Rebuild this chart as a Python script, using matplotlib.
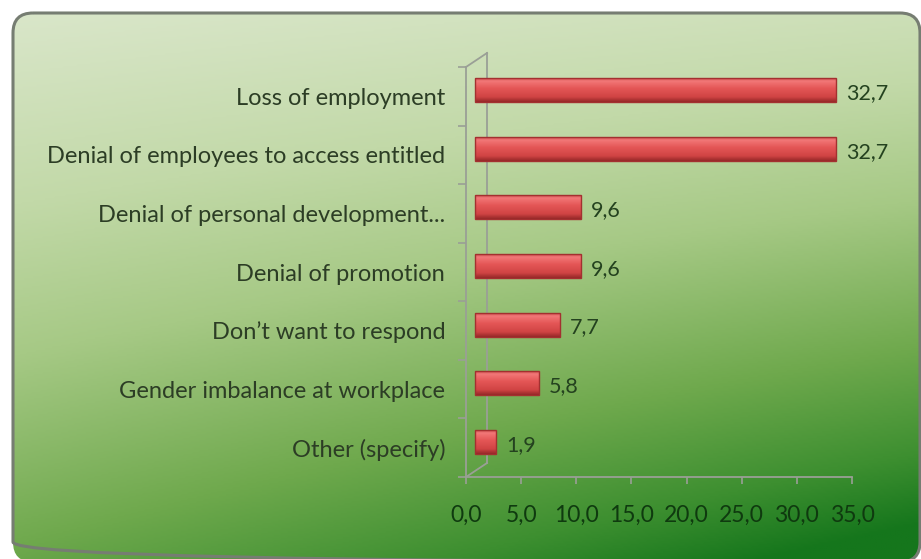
import numpy as np
import matplotlib
matplotlib.use("Agg")
import matplotlib.pyplot as plt
import matplotlib.transforms as mtransforms
from matplotlib.patches import FancyBboxPatch
from matplotlib.colors import LinearSegmentedColormap

# Survey results (percent of respondents)
categories = [
    "Loss of employment",
    "Denial of employees to access entitled",
    "Denial of personal development...",
    "Denial of promotion",
    "Don\u2019t want to respond",
    "Gender imbalance at workplace",
    "Other (specify)",
]
values = [32.7, 32.7, 9.6, 9.6, 7.7, 5.8, 1.9]
xticks = [0, 5, 10, 15, 20, 25, 30, 35]

plt.rcParams["font.family"] = ["Lato", "DejaVu Sans"]

W, H = 921, 559
fig = plt.figure(figsize=(W / 100, H / 100), dpi=100)
fig.patch.set_facecolor("white")

# background panel with rounded corners and a diagonal green gradient
bg = fig.add_axes([0, 0, 1, 1])
bg.axis("off")

bx0, by0, bx1, by1 = 13, 13, 920, 562
panel = FancyBboxPatch((bx0, by0), bx1 - bx0, by1 - by0,
                       boxstyle="round,pad=0,rounding_size=20",
                       facecolor="none", edgecolor="#767d72", linewidth=2.2, zorder=3)
bg.add_patch(panel)

green = LinearSegmentedColormap.from_list("panel", [
    (0.0, "#d9e6c9"), (0.25, "#c2d9a8"), (0.45, "#a6c985"),
    (0.7, "#6fa94d"), (0.88, "#3d8f30"), (1.0, "#15761c")])
gx, gy = np.meshgrid(np.linspace(0, 1, 400), np.linspace(0, 1, 300))
t = np.clip(0.72 * gy + 0.34 * gx * (0.4 + 0.6 * gy), 0, 1)
img = bg.imshow(green(t), extent=(bx0, bx1, by1, by0), origin="upper",
                aspect="auto", interpolation="bilinear", zorder=1)
img.set_clip_path(panel)
bg.set_xlim(0, W)
bg.set_ylim(H, 0)

# main plotting area
ax = fig.add_axes([466 / W, (H - 477) / H, 386 / W, 410 / H])
ax.patch.set_alpha(0)
for s in ax.spines.values():
    s.set_visible(False)

n = len(categories)
ypos = np.arange(n)
axc = "#9a9f96"

# bars sit half way into the 3D depth
bar_tr = mtransforms.offset_copy(ax.transData, fig=fig, x=9, y=6, units="dots")
bar_h = 0.41

barcm = LinearSegmentedColormap.from_list("bar", [
    (0.0, "#bf3c3c"), (0.15, "#f27878"), (0.45, "#e45656"),
    (0.8, "#d04444"), (1.0, "#962828")])
grad = barcm(np.linspace(0, 1, 64))[:, None, :]

bars = ax.barh(ypos, values, height=bar_h, color="#e05555",
               edgecolor="none", transform=bar_tr, zorder=2)
for rect, v, y in zip(bars, values, ypos):
    im = ax.imshow(grad, extent=(0, v, y + bar_h / 2, y - bar_h / 2),
                   origin="upper", aspect="auto", transform=bar_tr, zorder=2.5)
    im.set_clip_path(rect)
ax.barh(ypos, values, height=bar_h, facecolor="none", edgecolor="#a33030",
        linewidth=1.0, transform=bar_tr, zorder=3)

# value labels
for v, y in zip(values, ypos):
    ax.annotate(f"{v:.1f}".replace(".", ","), xy=(v, y), xytext=(19, 3),
                textcoords="offset pixels", va="center", ha="left",
                fontsize=15.5, color="#24421f", annotation_clip=False, zorder=4)

ax.set_xlim(0, 35)
ax.set_ylim(n - 0.5, -0.5)

# 3D axis frame
ddx = 21 * 35 / 386
ddy = 14 * n / 410
y_top, y_bot = -0.5, n - 0.5
kw = dict(color=axc, lw=1.3, clip_on=False, zorder=1)
ax.plot([0, 0], [y_top, y_bot], **kw)
ax.plot([0, 35], [y_bot, y_bot], **kw)
ax.plot([ddx, ddx], [y_top - ddy, y_bot - ddy], **kw)
ax.plot([0, ddx], [y_top, y_top - ddy], **kw)
ax.plot([0, ddx], [y_bot, y_bot - ddy], **kw)

# ticks and labels
ax.set_yticks(ypos)
ax.set_yticklabels(categories)
ax.set_yticks(np.arange(-0.5, n, 1), minor=True)
ax.tick_params(axis="y", which="major", length=0, pad=15,
               labelsize=17, labelcolor="#2c3d25")
ax.tick_params(axis="y", which="minor", length=6, width=1.2, color=axc)
ax.set_xticks(xticks)
ax.set_xticklabels([f"{x:.1f}".replace(".", ",") for x in xticks])
ax.tick_params(axis="x", which="major", length=5, width=1.2, color=axc,
               pad=15, labelsize=16.5, labelcolor="#0f3a0f")

fig.savefig("out.png", dpi=100)
